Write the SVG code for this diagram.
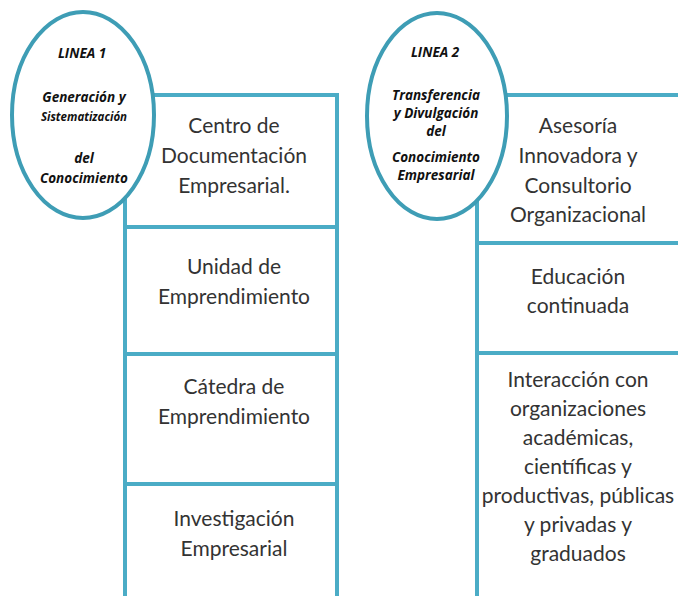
<svg xmlns="http://www.w3.org/2000/svg" width="678" height="596" viewBox="0 0 678 596">
<style>
.box{fill:#fff;stroke:#4BACC6;stroke-width:4}
.oval{fill:#fff;stroke:#3E9DB5;stroke-width:4}
.bt{font-family:Lato,"Open Sans","Liberation Sans",sans-serif;font-size:21px;fill:#333;text-anchor:middle}
.et{font-family:"Open Sans",Lato,"Liberation Sans",sans-serif;font-weight:bold;font-style:italic;font-size:13.5px;fill:#111;text-anchor:middle}
.sm{font-size:11.5px}
</style>
<rect width="678" height="596" fill="#fff"/>
<g id="connectors"/>
<g id="box-centro">
<rect class="box" x="125" y="95" width="212" height="132"/>
<text class="bt"><tspan x="234" y="133">Centro de</tspan><tspan x="234" y="163">Documentación</tspan><tspan x="234" y="193">Empresarial.</tspan></text>
</g>
<g id="box-unidad">
<rect class="box" x="125" y="227" width="212" height="127"/>
<text class="bt"><tspan x="234" y="274">Unidad de</tspan><tspan x="234" y="304">Emprendimiento</tspan></text>
</g>
<g id="box-catedra">
<rect class="box" x="125" y="354" width="212" height="130"/>
<text class="bt"><tspan x="234" y="394">Cátedra de</tspan><tspan x="234" y="424">Emprendimiento</tspan></text>
</g>
<g id="box-investigacion">
<rect class="box" x="125" y="484" width="212" height="140"/>
<text class="bt"><tspan x="234" y="526">Investigación</tspan><tspan x="234" y="556">Empresarial</tspan></text>
</g>
<g id="box-asesoria">
<rect class="box" x="477" y="95" width="230" height="148"/>
<text class="bt"><tspan x="578" y="133">Asesoría</tspan><tspan x="578" y="163">Innovadora y</tspan><tspan x="578" y="193">Consultorio</tspan><tspan x="578" y="222">Organizacional</tspan></text>
</g>
<g id="box-educacion">
<rect class="box" x="477" y="243" width="230" height="110"/>
<text class="bt"><tspan x="578" y="284">Educación</tspan><tspan x="578" y="313">continuada</tspan></text>
</g>
<g id="box-interaccion">
<rect class="box" x="477" y="353" width="230" height="270"/>
<text class="bt"><tspan x="578" y="387">Interacción con</tspan><tspan x="578" y="416">organizaciones</tspan><tspan x="578" y="445">académicas,</tspan><tspan x="578" y="474">científicas y</tspan><tspan x="578" y="503">productivas, públicas</tspan><tspan x="578" y="532">y privadas y</tspan><tspan x="578" y="561">graduados</tspan></text>
</g>
<g id="linea1">
<ellipse class="oval" cx="83" cy="115" rx="71" ry="103"/>
<text class="et"><tspan x="82" y="58">LINEA 1</tspan><tspan x="84" y="102">Generación y</tspan><tspan class="sm" x="84" y="121">Sistematización</tspan><tspan x="84" y="163">del</tspan><tspan x="84" y="183">Conocimiento</tspan></text>
</g>
<g id="linea2">
<ellipse class="oval" cx="437" cy="116" rx="70" ry="103"/>
<text class="et"><tspan x="435" y="57">LINEA 2</tspan><tspan x="436" y="100">Transferencia</tspan><tspan x="436" y="118">y Divulgación</tspan><tspan x="436" y="136">del</tspan><tspan x="436" y="162">Conocimiento</tspan><tspan x="436" y="180">Empresarial</tspan></text>
</g>
</svg>
